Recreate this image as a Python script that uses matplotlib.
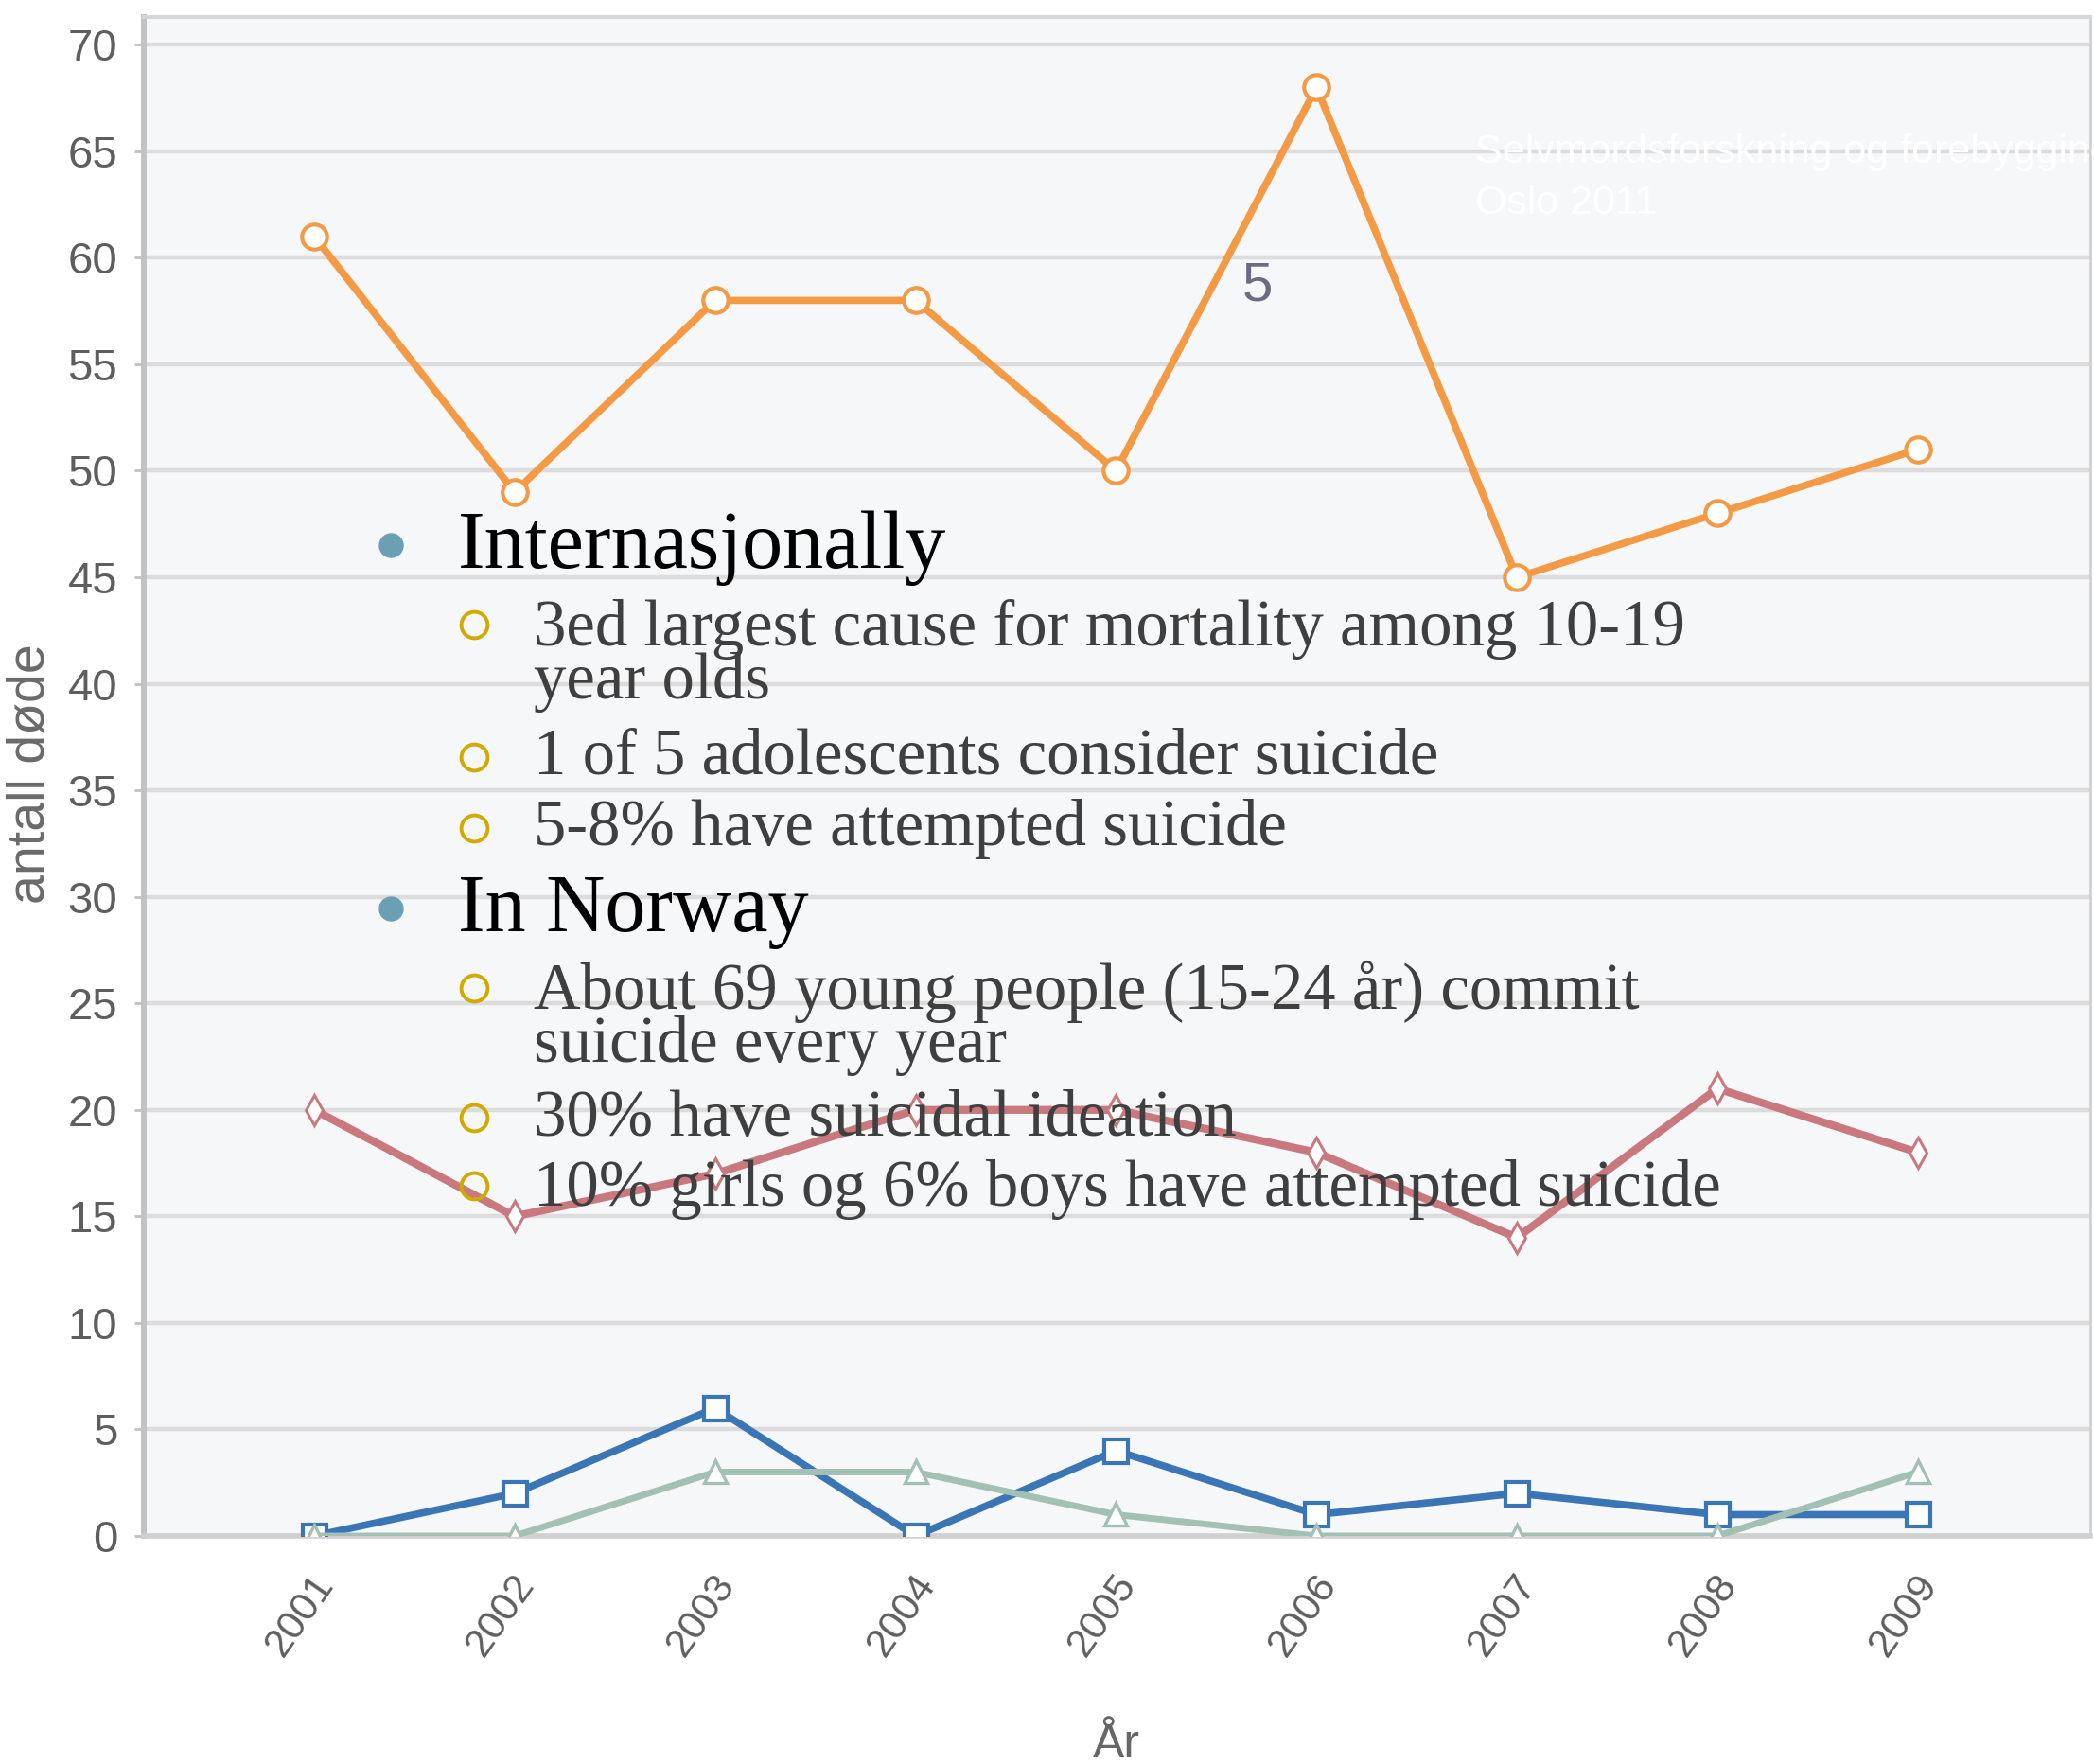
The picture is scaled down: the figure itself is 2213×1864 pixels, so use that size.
import matplotlib
matplotlib.use("Agg")
import matplotlib.pyplot as plt
import matplotlib.transforms as mtransforms

plt.rcParams['font.family'] = ['Liberation Sans', 'DejaVu Sans']

# antall døde per år
years = [2001, 2002, 2003, 2004, 2005, 2006, 2007, 2008, 2009]
line_a = [61, 49, 58, 58, 50, 68, 45, 48, 51]
line_b = [20, 15, 17, 20, 20, 18, 14, 21, 18]
line_c = [0, 2, 6, 0, 4, 1, 2, 1, 1]
line_d = [0, 0, 3, 3, 1, 0, 0, 0, 3]
y_ticks = list(range(0, 71, 5))

# bullet text laid over the chart
heading_1 = "Internasjonally"
items_1 = ["3ed largest cause for mortality among 10-19\nyear olds",
           "1 of 5 adolescents consider suicide",
           "5-8% have attempted suicide"]
heading_2 = "In Norway"
items_2 = ["About 69 young people (15-24 år) commit\nsuicide every year",
           "30% have suicidal ideation",
           "10% girls og 6% boys have attempted suicide"]

W, H = 2213, 1864
fig = plt.figure(figsize=(W / 100, H / 100), dpi=100)
fig.patch.set_facecolor('white')

ax = fig.add_axes([152 / W, 241 / H, (2209 - 152) / W, (1846 - 241) / H])
ax.set_facecolor('#f6f7f9')
ax.set_xlim(2000.15, 2009.86)
ax.set_ylim(0, 71.3)

ax.set_yticks(y_ticks)
ax.grid(axis='y', color='#dcdcdc', lw=3.2)
ax.set_axisbelow(True)

ax.spines['left'].set_color('#c2c2c2')
ax.spines['left'].set_linewidth(4.3)
ax.spines['bottom'].set_color('#d0d0d0')
ax.spines['bottom'].set_linewidth(4)
ax.spines['top'].set_color('#d6d6d6')
ax.spines['top'].set_linewidth(3)
ax.spines['right'].set_color('#d0d0d0')
ax.spines['right'].set_linewidth(2)

ax.tick_params(axis='y', length=7, width=2, color='#c2c2c2', pad=13,
               labelsize=34, labelcolor='#5e5e5e')
ax.set_xticks(years)
ax.set_xticklabels([str(y) for y in years], rotation=55, ha='right',
                   va='center', rotation_mode='anchor')
ax.tick_params(axis='x', length=0, pad=32, labelsize=31, labelcolor='#5e5e5e')
shift = mtransforms.ScaledTranslation(0.13, 0, fig.dpi_scale_trans)
for lab in ax.get_xticklabels():
    lab.set_transform(lab.get_transform() + shift)

ax.plot(years, line_b, color='#c9797d', lw=6, marker='d', ms=16,
        mfc='white', mec='#c9797d', mew=2.2, zorder=3)
ax.plot(years, line_c, color='#3a75b5', lw=5.5, marker='s', ms=18,
        mfc='white', mec='#3a75b5', mew=3, zorder=3)
ax.plot(years, line_d, color='#a3c0b5', lw=5, marker='^', ms=17,
        mfc='white', mec='#a3c0b5', mew=2.4, zorder=4)
ax.plot(years, line_a, color='#f49a44', lw=5.5, marker='o', ms=19,
        mfc='white', mec='#f49a44', mew=3, zorder=4)

fig.text(33 / W, 1 - 818 / H, 'antall døde', rotation=90, ha='center',
         va='center', fontsize=40, color='#6a6a6a')
fig.text(1180 / W, 1 - 1857 / H, 'År', ha='center', va='baseline',
         fontsize=36, color='#666666')

# overlay in pixel coordinates for the slide text
ov = fig.add_axes([0, 0, 1, 1], zorder=5)
ov.set_xlim(0, W)
ov.set_ylim(H, 0)
ov.axis('off')
ov.patch.set_alpha(0)

ov.text(1559, 172, 'Selvmordsforskning og forebygging', color='white',
        fontsize=31, va='baseline')
ov.text(1559, 226, 'Oslo 2011', color='white', fontsize=31, va='baseline')
ov.text(1329, 303, '5', ha='center', va='center', fontsize=42, color='#6e6a86')

serif = 'Liberation Serif'
ov.plot([413, 413], [576, 960], 'o', ms=18, color='#6b9fb2')
ov.text(484, 600, heading_1, fontsize=62, family=serif, color='black', va='baseline')
ov.text(484, 984, heading_2, fontsize=62, family=serif, color='black', va='baseline')

sub_baselines = [682, 818, 893, 1066, 1200, 1274]
sub_circles = [660, 800, 875, 1044, 1181, 1253]
for text, yb in zip(items_1 + items_2, sub_baselines):
    lines = text.split('\n')
    for i, line in enumerate(lines):
        ov.text(564, yb + i * 56, line, fontsize=49.5, family=serif,
                color='#3f3f3f', va='baseline')
ov.plot([501] * len(sub_circles), sub_circles, 'o', ms=20, mfc='none',
        mec='#d0aa00', mew=2.8)

fig.savefig('out.png', dpi=100)
